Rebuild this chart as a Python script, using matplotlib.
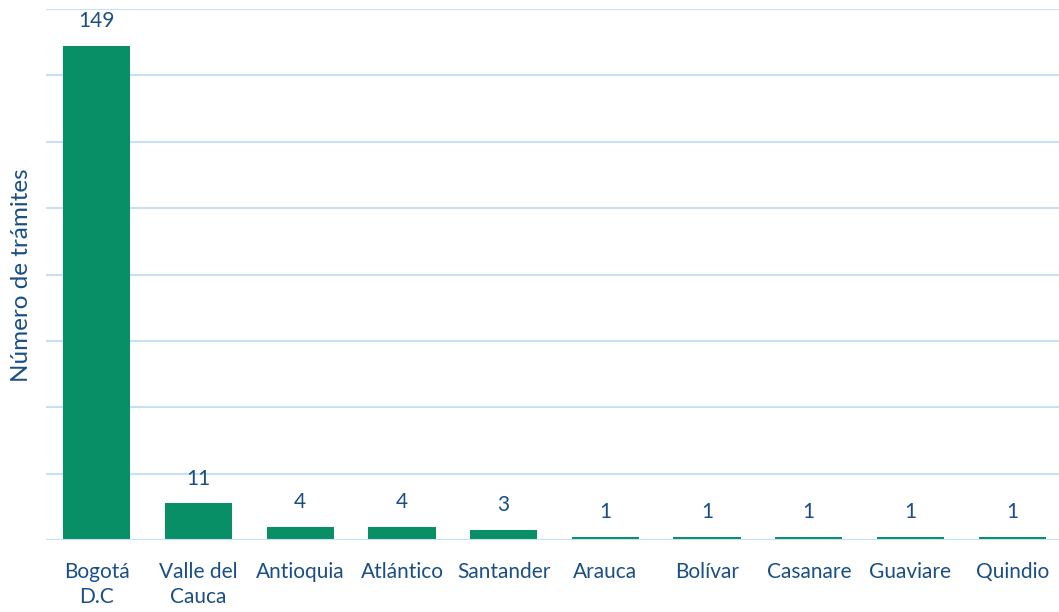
import matplotlib.pyplot as plt
import numpy as np

departamentos = ["Bogotá\nD.C", "Valle del\nCauca", "Antioquia", "Atlántico", "Santander",
                 "Arauca", "Bolívar", "Casanare", "Guaviare", "Quindio"]
tramites = [149, 11, 4, 4, 3, 1, 1, 1, 1, 1]

plt.rcParams['font.family'] = ['Lato', 'DejaVu Sans']
txt = '#1a4f86'
verde = '#088f65'
grid = '#c6e1f7'

fig = plt.figure(figsize=(10.59, 6.12), dpi=100)
ax = fig.add_axes([46/1059, 72/612, 1017/1059, 531/612])

x = np.arange(len(departamentos))
bars = ax.bar(x, tramites, width=0.66, color=verde, zorder=3)
for xi, v in zip(x, tramites):
    ax.text(xi, v + 4.5, str(v), ha='center', va='bottom', color=txt, fontsize=15)

ax.set_xlim(-0.5, 9.5)
ax.set_ylim(0, 160)
ax.set_yticks(np.arange(0, 161, 20))
ax.yaxis.grid(True, color=grid, linewidth=1.5, zorder=0)
ax.tick_params(axis='y', length=0, labelleft=False)
ax.tick_params(axis='x', length=0, pad=16)
ax.set_xticks(x)
ax.set_xticklabels(departamentos, color=txt, fontsize=15, linespacing=1.3)
for s in ['top', 'right', 'left', 'bottom']:
    ax.spines[s].set_visible(False)
ax.axhline(0, color=grid, linewidth=1.5, zorder=4)

fig.text(22/1059, 0.55, "Número de trámites", rotation=90, ha='center', va='center',
         color=txt, fontsize=17.5)

fig.savefig('out.png', dpi=100)
